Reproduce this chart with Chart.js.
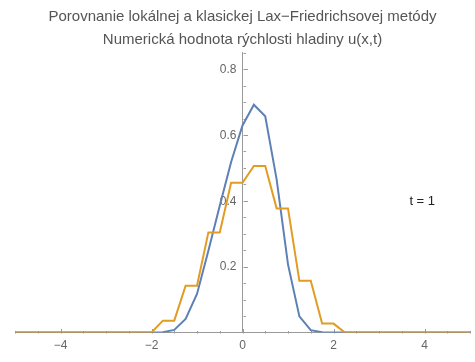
<!DOCTYPE html>
<html><head><meta charset="utf-8">
<script src="https://cdn.jsdelivr.net/npm/chart.js@4.4.1/dist/chart.umd.min.js"></script>
<style>html,body{margin:0;padding:0;background:#fff}</style>
</head><body>
<canvas id="c" width="475" height="362"></canvas>
<script>
const xGrid = [-5,-4.75,-4.5,-4.25,-4,-3.75,-3.5,-3.25,-3,-2.75,-2.5,-2.25,-2,
  -1.75,-1.5,-1.25,-1,-0.75,-0.5,-0.25,0,0.25,0.5,0.75,1,1.25,1.5,1.75,
  2,2.25,2.5,2.75,3,3.25,3.5,3.75,4,4.25,4.5,4.75,5];
const localLF = [0,0,0,0,0,0,0,0,0,0,0,0,0,
  0.001,0.008,0.041,0.117,0.248,0.385,0.518,0.629,0.692,0.657,0.465,0.207,0.049,0.007,0.001,
  0,0,0,0,0,0,0,0,0,0,0,0,0];
const classicLF = [0,0,0,0,0,0,0,0,0,0,0,0,0,
  0.036,0.036,0.142,0.142,0.304,0.304,0.455,0.455,0.506,0.506,0.377,0.377,0.157,0.157,0.027,
  0.027,0,0,0,0,0,0,0,0,0,0,0,0];
const xTickValues = [-4,-2,0,2,4];
const yTickValues = [0.2,0.4,0.6,0.8];
const yTickLabels = ['0.2','0.4','0.6','0.8'];
const titleLines = ['Porovnanie lokálnej a klasickej Lax\u2212Friedrichsovej metódy','Numerická hodnota rýchlosti hladiny u(x,t)'];
const label = {x: 3.95, y: 0.4, text: 't = 1'};

const FONT = "'Liberation Sans', Arial, sans-serif";
const AXIS = '#9a9a9a';

const mathTicks = {
  id: 'mathTicks',
  beforeDatasetsDraw(chart) {
    const {ctx, scales: {x, y}} = chart;
    const x0 = Math.round(x.getPixelForValue(0)) + 0.5;
    const y0 = Math.round(y.getPixelForValue(0)) + 0.5;
    ctx.save();
    ctx.strokeStyle = AXIS; ctx.lineWidth = 1;
    ctx.beginPath();
    for (let i = -10; i <= 10; i++) {
      const v = i * 0.5;
      const px = Math.round(x.getPixelForValue(v)) + 0.5;
      const len = (i % 4 === 0) ? 4.5 : 2.5;
      ctx.moveTo(px, y0); ctx.lineTo(px, y0 - len);
    }
    for (let i = 1; i <= 17; i++) {
      const v = i * 0.05;
      const py = Math.round(y.getPixelForValue(v)) + 0.5;
      const len = (i % 4 === 0) ? 4.5 : 2.5;
      ctx.moveTo(x0, py); ctx.lineTo(x0 + len, py);
    }
    ctx.stroke();
    ctx.fillStyle = '#666';
    ctx.font = '12px ' + FONT;
    ctx.textAlign = 'right';
    ctx.textBaseline = 'middle';
    yTickValues.forEach((v, i) => {
      ctx.fillText(yTickLabels[i], x.getPixelForValue(0) - 6, y.getPixelForValue(v) + 0.5);
    });
    ctx.restore();
  },
  afterDraw(chart) {
    const {ctx, scales: {x, y}} = chart;
    ctx.save();
    ctx.fillStyle = '#222';
    ctx.font = '13px ' + FONT;
    ctx.textAlign = 'center';
    ctx.textBaseline = 'middle';
    ctx.fillText(label.text, x.getPixelForValue(label.x), y.getPixelForValue(label.y) + 1);
    ctx.restore();
  }
};

new Chart(document.getElementById('c'), {
  type: 'line',
  data: {
    datasets: [
      {label: 'lokálna', data: xGrid.map((v, i) => ({x: v, y: localLF[i]})), borderColor: '#5E81B5', borderWidth: 2, pointRadius: 0, tension: 0, order: 1},
      {label: 'klasická', data: xGrid.map((v, i) => ({x: v, y: classicLF[i]})), borderColor: '#E19C24', borderWidth: 2, pointRadius: 0, tension: 0, order: 0}
    ]
  },
  options: {
    responsive: false,
    animation: false,
    layout: {padding: {left: 15, right: 5, top: 0, bottom: 29.5}},
    plugins: {
      legend: {display: false},
      tooltip: {enabled: false},
      title: {
        display: true, text: titleLines, color: '#555',
        font: {family: FONT, size: 15, weight: 'normal', lineHeight: 23/15},
        padding: {top: 5, bottom: 1}
      }
    },
    scales: {
      x: {
        type: 'linear', min: -5, max: 5, position: {y: 0},
        grid: {display: false, drawTicks: false},
        border: {display: true, color: AXIS, width: 1},
        afterBuildTicks: s => { s.ticks = xTickValues.map(v => ({value: v})); },
        ticks: {color: '#666', font: {family: FONT, size: 12}, padding: 6, maxRotation: 0, callback: v => String(v).replace('-', '\u2212')}
      },
      y: {
        type: 'linear', min: 0, max: 0.852, position: {x: 0},
        grid: {display: false, drawTicks: false},
        border: {display: true, color: AXIS, width: 1},
        afterBuildTicks: s => { s.ticks = yTickValues.map(v => ({value: v})); },
        ticks: {display: false}
      }
    }
  },
  plugins: [mathTicks]
});
</script>
</body></html>
